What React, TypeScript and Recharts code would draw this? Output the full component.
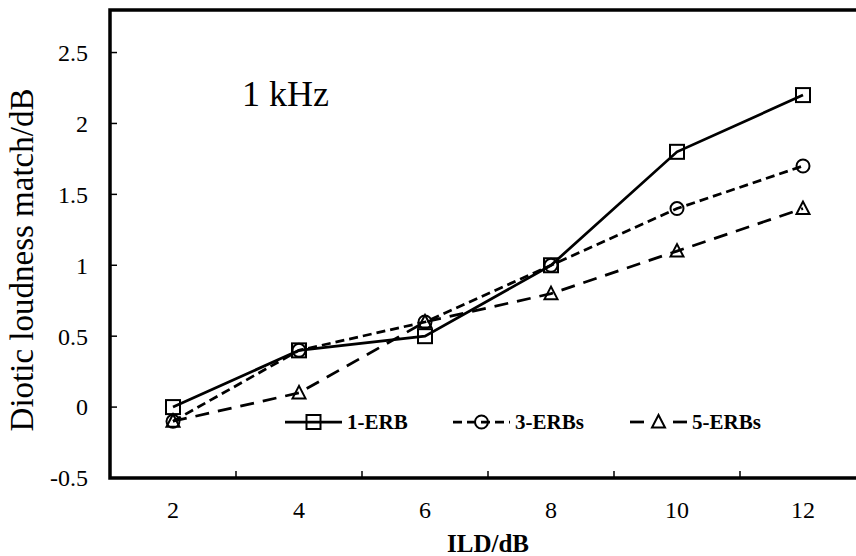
import React from 'react';
import { LineChart, Line, XAxis, YAxis, ReferenceArea, Legend, Label } from 'recharts';

const ildValues = [2, 4, 6, 8, 10, 12];
const erb1 = [0, 0.4, 0.5, 1.0, 1.8, 2.2];
const erb3 = [-0.1, 0.4, 0.6, 1.0, 1.4, 1.7];
const erb5 = [-0.1, 0.1, 0.6, 0.8, 1.1, 1.4];
const xTicks = [2, 3, 4, 5, 6, 7, 8, 9, 10, 11, 12];
const yTicks = [-0.5, 0, 0.5, 1, 1.5, 2, 2.5];
const seriesNames = ['1-ERB', '3-ERBs', '5-ERBs'];
const xDomain = [1, 13];
const yDomain = [-0.5, 2.8];
const panelLabel = '1 kHz';
const xTitle = 'ILD/dB';
const yTitle = 'Diotic loudness match/dB';

const data = ildValues.map((x, i) => ({ ild: x, e1: erb1[i], e3: erb3[i], e5: erb5[i] }));

const FONT = '"Liberation Serif", "Times New Roman", serif';
const dashes = [undefined, '9 5', '14 9'];
const legendWidths = [168, 177, 140];
const LINE_W = 2.75;

const Square = (p: any) => {
  const { cx, cy } = p;
  if (cx == null || cy == null) return null;
  return <rect x={cx - 7} y={cy - 7} width={14} height={14} fill="none" stroke="#000" strokeWidth={2} />;
};
const Circ = (p: any) => {
  const { cx, cy } = p;
  if (cx == null || cy == null) return null;
  return <circle cx={cx} cy={cy} r={6.5} fill="none" stroke="#000" strokeWidth={2} />;
};
const Tri = (p: any) => {
  const { cx, cy } = p;
  if (cx == null || cy == null) return null;
  return (
    <polygon
      points={`${cx},${cy - 7} ${cx - 6.5},${cy + 5.5} ${cx + 6.5},${cy + 5.5}`}
      fill="none"
      stroke="#000"
      strokeWidth={2}
    />
  );
};
const markers = [Square, Circ, Tri];

const XTick = (p: any) => {
  const { x, y, payload } = p;
  const v = payload.value;
  if (v % 2 === 1) {
    const ay = y - 23;
    return <line x1={x} x2={x} y1={ay} y2={ay - 7} stroke="#000" strokeWidth={1.5} />;
  }
  return (
    <text x={x} y={y} dy="0.71em" textAnchor="middle" fontFamily={FONT} fontSize={24} fill="#000">
      {v}
    </text>
  );
};

const YTick = (p: any) => {
  const { x, y, payload } = p;
  const ax = x + 22;
  return (
    <g>
      <line x1={ax} x2={ax + 7} y1={y} y2={y} stroke="#000" strokeWidth={1.5} />
      <text x={x} y={y} dy="0.35em" textAnchor="end" fontFamily={FONT} fontSize={24} fill="#000">
        {payload.value}
      </text>
    </g>
  );
};

const YTitle = (p: any) => {
  const vb = p.viewBox || { x: 0, y: 10, width: 110, height: 468 };
  const cx = vb.x + 33;
  const cy = vb.y + vb.height / 2 + 16;
  return (
    <text
      x={cx}
      y={cy}
      transform={`rotate(-90, ${cx}, ${cy})`}
      textAnchor="middle"
      fontFamily={FONT}
      fontSize={33}
      fill="#000"
    >
      {yTitle}
    </text>
  );
};

const XTitle = (p: any) => {
  const vb = p.viewBox || { x: 110, y: 478, width: 756, height: 78 };
  return (
    <text
      x={vb.x + vb.width / 2}
      y={vb.y + 74}
      textAnchor="middle"
      fontFamily={FONT}
      fontWeight="bold"
      fontSize={25}
      fill="#000"
    >
      {xTitle}
    </text>
  );
};

const LegendContent = () => (
  <div
    style={{
      display: 'flex',
      alignItems: 'center',
      fontFamily: FONT,
      fontWeight: 'bold',
      fontSize: 21,
      color: '#000',
      lineHeight: '20px',
    }}
  >
    {seriesNames.map((name, i) => {
      const M = markers[i];
      return (
        <div key={name} style={{ display: 'flex', alignItems: 'center', width: legendWidths[i] }}>
          <svg width={57} height={20} style={{ display: 'block' }}>
            {i === 2 ? (
              <g>
                <line x1={0} x2={14} y1={10} y2={10} stroke="#000" strokeWidth={LINE_W} />
                <line x1={43} x2={57} y1={10} y2={10} stroke="#000" strokeWidth={LINE_W} />
              </g>
            ) : (
              <line x1={0} x2={57} y1={10} y2={10} stroke="#000" strokeWidth={LINE_W} strokeDasharray={dashes[i]} />
            )}
            <M cx={28.5} cy={10} />
          </svg>
          <span style={{ marginLeft: 5 }}>{name}</span>
        </div>
      );
    })}
  </div>
);

export default function App() {
  return (
    <div
      style={{
        position: 'absolute',
        left: 0,
        top: 0,
        width: 856,
        height: 556,
        overflow: 'hidden',
        background: '#fff',
      }}
    >
      <LineChart width={880} height={556} data={data} margin={{ top: 10, right: 14, left: 0, bottom: 0 }}>
        <ReferenceArea
          x1={xDomain[0]}
          x2={xDomain[1]}
          y1={yDomain[0]}
          y2={yDomain[1]}
          fill="none"
          stroke="#000"
          strokeWidth={3.5}
          ifOverflow="visible"
        />
        <XAxis
          dataKey="ild"
          type="number"
          domain={xDomain}
          ticks={xTicks}
          interval={0}
          allowDataOverflow
          height={78}
          tickSize={0}
          tickMargin={23}
          axisLine={false}
          tickLine={false}
          tick={<XTick />}
        >
          <Label content={<XTitle />} />
        </XAxis>
        <YAxis
          type="number"
          domain={yDomain}
          ticks={yTicks}
          interval={0}
          allowDataOverflow
          width={110}
          tickSize={0}
          tickMargin={22}
          axisLine={false}
          tickLine={false}
          tick={<YTick />}
        >
          <Label content={<YTitle />} />
        </YAxis>
        {(['e1', 'e3', 'e5'] as const).map((k, i) => {
          const M = markers[i];
          return (
            <Line
              key={k}
              dataKey={k}
              name={seriesNames[i]}
              stroke="#000"
              strokeWidth={LINE_W}
              strokeDasharray={dashes[i]}
              dot={<M />}
              activeDot={false}
              isAnimationActive={false}
            />
          );
        })}
        <Legend
          layout="horizontal"
          verticalAlign="middle"
          align="center"
          content={<LegendContent />}
          wrapperStyle={{ position: 'absolute', left: 285, top: 412, width: 'auto' }}
        />
      </LineChart>
      <div
        style={{
          position: 'absolute',
          left: 242,
          top: 76,
          fontFamily: FONT,
          fontSize: 36,
          lineHeight: '36px',
          color: '#000',
          whiteSpace: 'nowrap',
        }}
      >
        {panelLabel}
      </div>
    </div>
  );
}
